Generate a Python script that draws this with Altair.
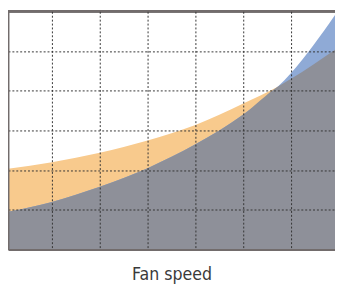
import altair as alt
import pandas as pd

# Values (x in grid units, y in grid units)
x_vals      = [0,    1,    2,    3,    4,    5,    5.72, 6,    7]
orange_vals = [2.02, 2.20, 2.44, 2.75, 3.14, 3.68, 4.10, 4.30, 5.10]
blue_vals   = [0.93, 1.20, 1.58, 2.05, 2.65, 3.40, 4.10, 4.45, 6.05]

x_grid = [1, 2, 3, 4, 5, 6]
y_grid = [1, 2, 3, 4, 5]
x_title = "Fan speed"

ORANGE = "#f8ca8d"
BLUE = "#8faad6"
GRAY = "#8e9099"
FRAME = "#726c6c"
GRID = "#333333"

df = pd.DataFrame({"x": x_vals, "orange": orange_vals, "blue": blue_vals})

W, H = 335, 244
xscale = alt.Scale(domain=[4 / 49, 4 / 49 + W / 49], nice=False, zero=False)
yscale = alt.Scale(domain=[0, 6], nice=False, zero=False)

xaxis = alt.Axis(values=x_grid, labels=False, ticks=False, grid=True,
                 gridColor=GRID, gridDash=[2, 2], gridWidth=1, gridOpacity=1,
                 domainColor=FRAME, domainWidth=2, title=x_title,
                 titleFont="Liberation Sans Narrow, DejaVu Sans Condensed, sans-serif",
                 titleFontSize=18, titleFontWeight="normal", titleColor="#3a3a3a",
                 titlePadding=17, zindex=1)
yaxis = alt.Axis(values=y_grid, labels=False, ticks=False, grid=True,
                 gridColor=GRID, gridDash=[2, 2], gridWidth=1, gridOpacity=1,
                 domainColor=FRAME, domainWidth=2, title=None, zindex=1)

base = alt.Chart(df)
orange = base.mark_area(color=ORANGE, interpolate="monotone", clip=True, opacity=1).encode(
    x=alt.X("x:Q", scale=xscale, axis=xaxis),
    y=alt.Y("orange:Q", scale=yscale, axis=yaxis),
)
blue = base.mark_area(color=BLUE, interpolate="monotone", clip=True, opacity=1).encode(
    x=alt.X("x:Q", scale=xscale),
    y=alt.Y("blue:Q", scale=yscale),
)
gray = base.transform_calculate(low="min(datum.orange, datum.blue)").mark_area(
    color=GRAY, interpolate="monotone", clip=True, opacity=1).encode(
    x=alt.X("x:Q", scale=xscale),
    y=alt.Y("low:Q", scale=yscale),
)
top = base.mark_rule(color=FRAME, strokeWidth=2).encode(
    x=alt.value(0), x2=alt.value(W), y=alt.value(0)
)

chart = alt.layer(orange, blue, gray, top).properties(
    width=W, height=H,
    autosize=alt.AutoSizeParams(type="none"),
    padding={"left": 0, "top": 0, "right": 0, "bottom": 38},
).configure_view(stroke=None)

chart.save("out.html", embed_options={"renderer": "svg", "actions": False})
